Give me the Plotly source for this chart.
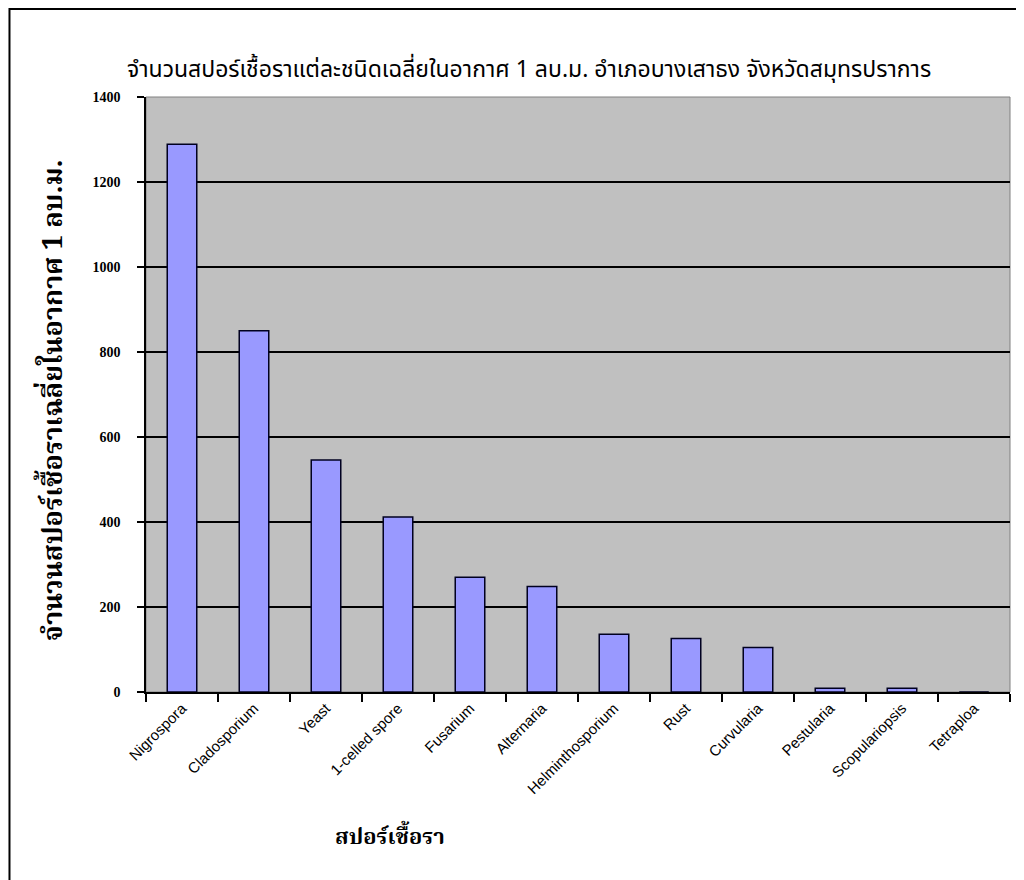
import plotly.graph_objects as go

# spore types and mean count per cubic metre of air
spores = [
    "Nigrospora", "Cladosporium", "Yeast", "1-celled spore", "Fusarium",
    "Alternaria", "Helminthosporium", "Rust", "Curvularia", "Pestularia",
    "Scopulariopsis", "Tetraploa",
]
counts = [1289, 850, 546, 412, 270, 248, 136, 126, 105, 9, 9, 0]
y_ticks = [0, 200, 400, 600, 800, 1000, 1200, 1400]

title_text = "จำนวนสปอร์เชื้อราแต่ละชนิดเฉลี่ยในอากาศ 1 ลบ.ม. อำเภอบางเสาธง จังหวัดสมุทรปราการ"
y_title = "จำนวนสปอร์เชื้อราเฉลี่ยในอากาศ 1 ลบ.ม."
x_title = "สปอร์เชื้อรา"

fig = go.Figure(
    go.Bar(
        x=spores,
        y=counts,
        marker=dict(color="#9999FF", line=dict(color="#000020", width=1.5)),
        width=0.41,
    )
)

# the page body adds 8px, so margins are set 8px tighter on the left/top
fig.update_layout(
    width=1024,
    height=880,
    margin=dict(l=138, r=22, t=89, b=196, autoexpand=False),
    paper_bgcolor="white",
    plot_bgcolor="#C0C0C0",
    showlegend=False,
    font=dict(family="Arial, Liberation Sans, sans-serif", color="black"),
    shapes=[
        # outer chart frame, clipped at right and bottom like the reference
        dict(type="rect", xref="paper", yref="paper",
             x0=-0.158, x1=1.06, y0=-0.35, y1=1.148,
             line=dict(color="black", width=2), layer="below"),
        # thin grey outline of the plot area
        dict(type="rect", xref="paper", yref="paper",
             x0=0, x1=1, y0=0, y1=1,
             line=dict(color="#808080", width=1), layer="below"),
    ],
    annotations=[
        dict(text=title_text, xref="paper", yref="paper", x=0.443, y=1.045,
             xanchor="center", yanchor="middle", showarrow=False,
             font=dict(size=23, family="Noto Sans Thai, Noto Sans, sans-serif")),
        dict(text="<b>" + y_title + "</b>", xref="paper", yref="paper", x=-0.105, y=0.491,
             textangle=-90, xanchor="center", yanchor="middle", showarrow=False,
             font=dict(size=27, family="Noto Serif Thai, Noto Sans Thai, serif")),
        dict(text="<b>" + x_title + "</b>", xref="paper", yref="paper", x=0.282, y=-0.245,
             xanchor="center", yanchor="middle", showarrow=False,
             font=dict(size=22, family="Noto Serif Thai, Noto Sans Thai, serif")),
    ],
)

fig.update_xaxes(
    automargin=False,
    tickangle=-45,
    tickson="boundaries",
    ticks="outside",
    ticklen=8,
    tickcolor="black",
    tickwidth=1.5,
    showline=True,
    linecolor="black",
    linewidth=1.5,
    showgrid=False,
    tickfont=dict(size=15, family="Arial, Liberation Sans, sans-serif"),
)
fig.update_yaxes(
    automargin=False,
    range=[0, 1400],
    tickvals=y_ticks,
    ticks="outside",
    ticklen=7,
    tickcolor="black",
    tickwidth=1.5,
    showline=True,
    linecolor="black",
    linewidth=1.5,
    gridcolor="black",
    gridwidth=1.5,
    zeroline=False,
    tickfont=dict(size=14, family="Liberation Serif, serif", weight="bold"),
    ticklabelstandoff=14,
)

fig.write_html("out.html")
